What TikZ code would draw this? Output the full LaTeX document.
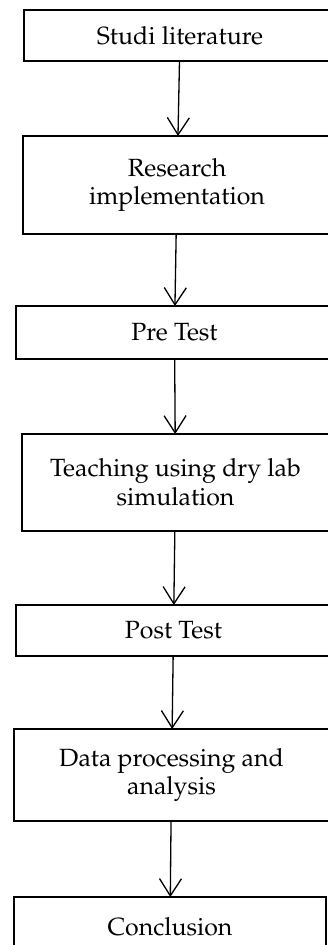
\documentclass[tikz,border=0pt]{standalone}
\usepackage[T1]{fontenc}
\usepackage{mathpazo}
\usetikzlibrary{arrows.meta}

\begin{document}
\begin{tikzpicture}[x=0.0175cm,y=-0.0175cm,
  stage/.style={draw,line width=1.1pt,inner sep=0pt,outer sep=0pt,align=center,
    font=\fontsize{12.4}{14.2}\selectfont},
  flow/.style={line width=0.65pt,-{Straight Barb[length=0.3cm,width=0.385cm]}}]

\useasboundingbox (0,0) rectangle (328,945);
\clip (0,0) rectangle (328,945);

\node[stage,minimum width=5.46cm,minimum height=0.8925cm] (lit) at (180,35.5) {Studi literature};
\node[stage,minimum width=5.39cm,minimum height=1.715cm] (impl) at (177,185) {Research\\implementation};
\node[stage,minimum width=5.5475cm,minimum height=0.9275cm] (pre) at (174.5,332.5) {Pre Test};
\node[stage,minimum width=5.3725cm,minimum height=1.6975cm] (teach) at (175.5,482.5) {Teaching using dry lab\\simulation};
\node[stage,minimum width=5.5125cm,minimum height=0.8925cm] (post) at (173.5,630.5) {Post Test};
\node[stage,minimum width=5.5125cm,minimum height=1.61cm] (proc) at (171.5,775) {Data processing and\\analysis};
\node[stage,minimum width=5.46cm,minimum height=1.05cm] (concl) at (170,927) {Conclusion};

\foreach \u/\v in {lit/impl,impl/pre,pre/teach,teach/post,post/proc,proc/concl}
{
\draw[flow] (\u) -- (\v);
}

\end{tikzpicture}
\end{document}
